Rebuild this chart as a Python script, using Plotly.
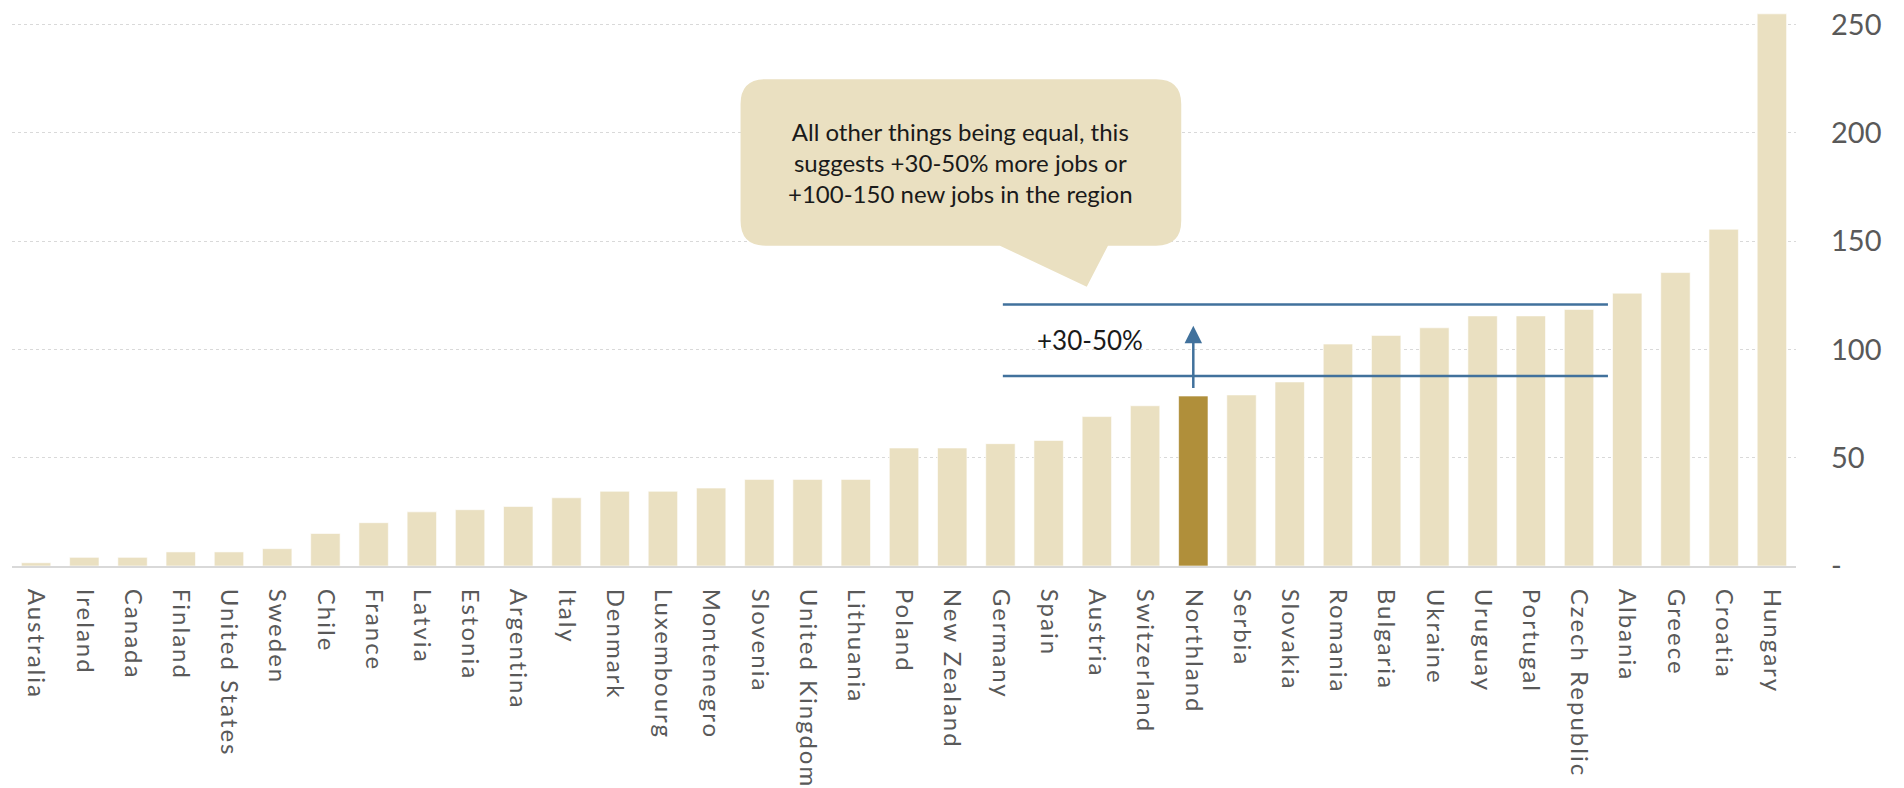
import plotly.graph_objects as go

# ---- data ----
countries = ["Australia", "Ireland", "Canada", "Finland", "United States", "Sweden",
             "Chile", "France", "Latvia", "Estonia", "Argentina", "Italy", "Denmark",
             "Luxembourg", "Montenegro", "Slovenia", "United Kingdom", "Lithuania",
             "Poland", "New Zealand", "Germany", "Spain", "Austria", "Switzerland",
             "Northland", "Serbia", "Slovakia", "Romania", "Bulgaria", "Ukraine",
             "Uruguay", "Portugal", "Czech Republic", "Albania", "Greece", "Croatia",
             "Hungary"]
values = [1.5, 4, 4, 6.5, 6.5, 8, 15, 20, 25, 26, 27.5, 31.5, 34.5, 34.5, 36,
          40, 40, 40, 54.5, 54.5, 56.5, 58, 69, 74, 78.5, 79, 85, 102.5, 106.5,
          110, 115.5, 115.5, 118.5, 126, 135.5, 155.5, 255]
highlight = "Northland"

y_tickvals = [0, 50, 100, 150, 200, 250]
y_ticktext = ["-", "50", "100", "150", "200", "250"]

uplift_low = 87.8     # lower reference line
uplift_high = 120.8   # upper reference line
arrow_top = 111
uplift_label = "+30-50%"
callout_text = ("All other things being equal, this<br>"
                "suggests +30-50% more jobs or<br>"
                "+100-150 new jobs in the region")

# ---- styling ----
BAR = "#EAE0C1"
HIGHLIGHT = "#B08F3A"
LINE = "#41719C"
GRID = "#D9D9D9"
TICK = "#595959"
FONT = "Lato"

x_idx = list(range(len(countries)))
colors = [HIGHLIGHT if c == highlight else BAR for c in countries]
hi = countries.index(highlight)

fig = go.Figure()
fig.add_trace(go.Bar(
    x=x_idx, y=values, width=0.61,
    marker=dict(color=colors, line=dict(color="rgba(255,255,255,0.6)", width=1)),
    hoverinfo="skip", showlegend=False,
))

# reference lines
line_x0 = hi - 3.95
line_x1 = hi + 8.6
for yv in (uplift_low, uplift_high):
    fig.add_shape(type="line", xref="x", yref="y", x0=line_x0, x1=line_x1,
                  y0=yv, y1=yv, line=dict(color=LINE, width=2.5), layer="above")

# arrow from highlighted bar upwards
fig.add_annotation(x=hi, y=arrow_top, ax=hi, ay=values[hi] + 3, xref="x", yref="y",
                   axref="x", ayref="y", showarrow=True, arrowhead=2,
                   arrowsize=1.4, arrowwidth=2.5, arrowcolor=LINE, text="")

fig.add_annotation(x=hi - 2.15, y=(uplift_low + uplift_high) / 2, xref="x", yref="y",
                   text=uplift_label, showarrow=False,
                   font=dict(family=FONT, size=26, color="#1A1A1A"))

# callout bubble
bx0, bx1 = hi - 9.39, hi - 0.25
by0, by1 = 147.9, 224.8
rx, ry = 0.52, 11.5
pb1, pb2 = hi - 4.01, hi - 1.77
tipx, tipy = hi - 2.21, 129.0
path = (f"M {bx0+rx},{by1} L {bx1-rx},{by1} Q {bx1},{by1} {bx1},{by1-ry} "
        f"L {bx1},{by0+ry} Q {bx1},{by0} {bx1-rx},{by0} "
        f"L {pb2},{by0} L {tipx},{tipy} L {pb1},{by0} "
        f"L {bx0+rx},{by0} Q {bx0},{by0} {bx0},{by0+ry} "
        f"L {bx0},{by1-ry} Q {bx0},{by1} {bx0+rx},{by1} Z")
fig.add_shape(type="path", path=path, xref="x", yref="y", fillcolor=BAR,
              line=dict(width=0), layer="above")
fig.add_annotation(x=(bx0 + bx1) / 2, y=(by0 + by1) / 2, xref="x", yref="y",
                   text=callout_text, showarrow=False, align="center",
                   font=dict(family=FONT, size=24, color="#1A1A1A"))

fig.update_layout(
    width=1904, height=788,
    margin=dict(l=12, r=108, t=3, b=222, autoexpand=False),
    paper_bgcolor="white", plot_bgcolor="white",
    xaxis=dict(
        range=[-0.5, len(countries) - 0.5],
        tickmode="array", tickvals=x_idx, ticktext=countries,
        tickangle=90, tickfont=dict(family=FONT, size=24, color=TICK),
        showgrid=False, showline=True, linecolor=GRID, linewidth=2,
        ticks="", ticklabelstandoff=16, zeroline=False, automargin=False,
    ),
    yaxis=dict(
        range=[0, 260], side="right",
        tickmode="array", tickvals=y_tickvals, ticktext=y_ticktext,
        tickfont=dict(family=FONT, size=29, color=TICK),
        showgrid=True, gridcolor=GRID, gridwidth=1, griddash="dot",
        zeroline=False, showline=False, ticks="", ticklabelstandoff=34,
        automargin=False,
    ),
)

post = ("document.body.style.margin='0';"
        "var s=document.createElement('style');"
        "s.textContent='.xtick text{letter-spacing:2px;}';"
        "document.head.appendChild(s);")
fig.write_html("out.html", post_script=post,
               config={"displayModeBar": False, "staticPlot": True})
